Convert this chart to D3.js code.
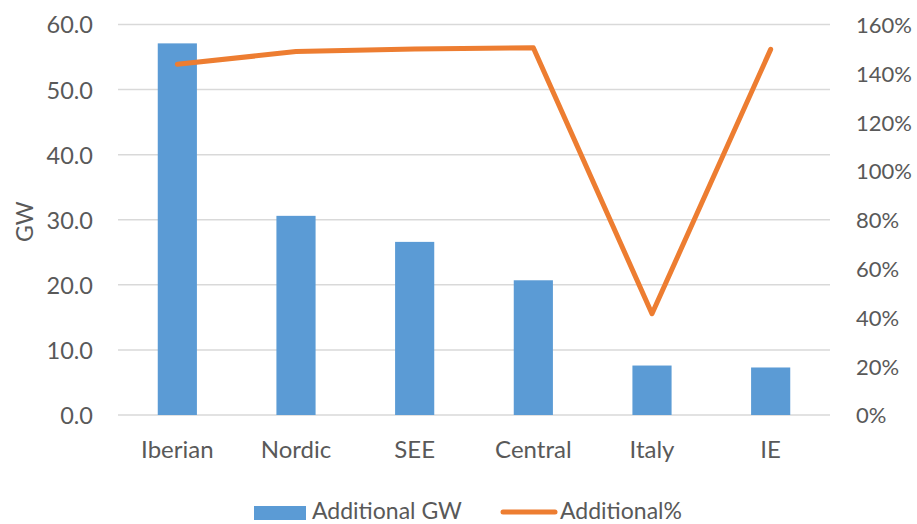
<!DOCTYPE html>
<html>
<head>
<meta charset="utf-8">
<script src="https://cdn.jsdelivr.net/npm/d3@7"></script>
<style>
  html, body { margin: 0; padding: 0; background: #fff; }
  svg text { font-family: Lato, "Open Sans", sans-serif; fill: #595959; }
</style>
</head>
<body>
<svg id="chart" width="917" height="524"></svg>
<script>
// Regional additions: capacity in GW (bars) and relative increase (line)
const regions = ["Iberian", "Nordic", "SEE", "Central", "Italy", "IE"];
const additionalGW = [57.1, 30.6, 26.6, 20.7, 7.6, 7.3];
const additionalPct = [1.437, 1.489, 1.50, 1.505, 0.415, 1.498];
const gwTicks = [0, 10, 20, 30, 40, 50, 60];
const pctTicks = [0, 0.2, 0.4, 0.6, 0.8, 1.0, 1.2, 1.4, 1.6];

const svg = d3.select("#chart");
const plotLeft = 118, plotRight = 830, plotTop = 24.5, plotBottom = 415;

const x = d3.scaleBand().domain(regions).range([plotLeft, plotRight]).paddingInner(0.67).paddingOuter(0.335);
const yL = d3.scaleLinear().domain([0, 60]).range([plotBottom, plotTop]);
const yR = d3.scaleLinear().domain([0, 1.6]).range([plotBottom, plotTop]);

// gridlines
svg.append("g").selectAll("line").data(gwTicks).join("line")
  .attr("x1", plotLeft).attr("x2", plotRight)
  .attr("y1", d => yL(d)).attr("y2", d => yL(d))
  .attr("stroke", "#d9d9d9").attr("stroke-width", 1.5);

// left axis
const axL = svg.append("g").attr("transform", `translate(${plotLeft - 25},0)`)
  .call(d3.axisLeft(yL).tickValues(gwTicks).tickFormat(d3.format(".1f")).tickSize(0).tickPadding(0));
axL.select(".domain").remove();
axL.selectAll("text").attr("font-size", 23.5).attr("dy", "0.36em").style("fill", "#595959");

// right axis
const axR = svg.append("g").attr("transform", `translate(${plotRight + 26},0)`)
  .call(d3.axisRight(yR).tickValues(pctTicks).tickFormat(d3.format(".0%")).tickSize(0).tickPadding(0));
axR.select(".domain").remove();
axR.selectAll("text").attr("font-size", 22).attr("dy", "0.36em").style("fill", "#595959");

// category axis
const axB = svg.append("g").attr("transform", `translate(0,458)`)
  .call(d3.axisBottom(x).tickSize(0).tickPadding(0));
axB.select(".domain").remove();
axB.selectAll("text").attr("font-size", 24).attr("y", 0).attr("dy", 0).style("fill", "#595959");

// y-axis title
svg.append("text")
  .attr("transform", `translate(33,${(plotTop + plotBottom) / 2 + 2}) rotate(-90)`)
  .attr("text-anchor", "middle").attr("font-size", 23).text("GW");

// bars
svg.append("g").selectAll("rect").data(regions).join("rect")
  .attr("x", d => x(d)).attr("width", x.bandwidth())
  .attr("y", (d, i) => yL(additionalGW[i]))
  .attr("height", (d, i) => plotBottom - yL(additionalGW[i]))
  .attr("fill", "#5b9bd5");

// line
const line = d3.line()
  .x((d, i) => x(regions[i]) + x.bandwidth() / 2)
  .y(d => yR(d));
svg.append("path").datum(additionalPct)
  .attr("d", line).attr("fill", "none")
  .attr("stroke", "#ed7d31").attr("stroke-width", 5)
  .attr("stroke-linecap", "round").attr("stroke-linejoin", "round");

// legend
const lg = svg.append("g");
lg.append("rect").attr("x", 254).attr("y", 506).attr("width", 52).attr("height", 14).attr("fill", "#5b9bd5");
lg.append("text").attr("x", 312).attr("y", 518.5).attr("font-size", 23).text("Additional GW");
lg.append("line").attr("x1", 503).attr("x2", 555).attr("y1", 512).attr("y2", 512)
  .attr("stroke", "#ed7d31").attr("stroke-width", 5).attr("stroke-linecap", "round");
lg.append("text").attr("x", 560).attr("y", 518.5).attr("font-size", 23).text("Additional%");
</script>
</body>
</html>
